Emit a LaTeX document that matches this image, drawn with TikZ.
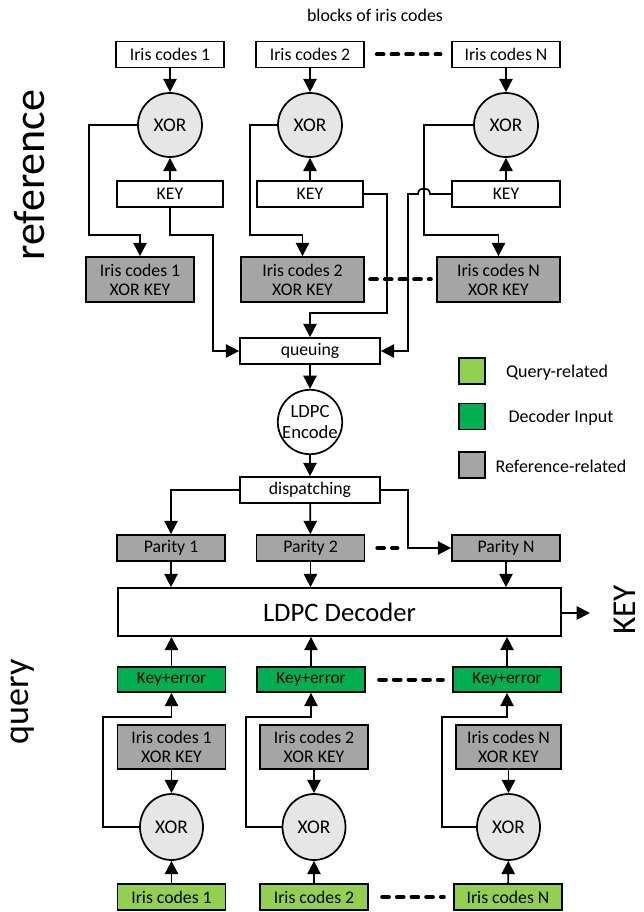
\documentclass[tikz,border=0pt]{standalone}
\usepackage{fontspec}
\setmainfont{Carlito}
\usetikzlibrary{arrows.meta,shapes.geometric}
\definecolor{refgray}{HTML}{A5A5A5}
\definecolor{qgreen}{HTML}{92D050}
\definecolor{dgreen}{HTML}{00B050}
\definecolor{xorgray}{HTML}{E6E6E6}
\begin{document}
\begin{tikzpicture}[x=0.75pt,y=-0.75pt,
  txt/.style={font=\fontsize{13.3}{14.3}\selectfont},
  box/.style={txt,draw,line width=1.3pt,inner sep=0pt,minimum width=81pt,minimum height=19.5pt,align=center},
  wbox/.style={box,fill=white},
  gbox/.style={box,fill=refgray,minimum height=33.75pt},
  qbox/.style={box,fill=qgreen},
  dbox/.style={box,fill=dgreen,minimum height=18.75pt,font=\fontsize{13}{14}\selectfont},
  xorc/.style={draw,line width=1.3pt,circle,fill=xorgray,minimum size=48pt,inner sep=0pt,font=\fontsize{14.5}{15}\selectfont},
  xore/.style={draw,line width=1.3pt,ellipse,fill=xorgray,minimum width=47.25pt,minimum height=49.5pt,inner sep=0pt,font=\fontsize{14.5}{15}\selectfont},
  arr/.style={line width=1.3pt,-{Triangle[length=10pt,width=10pt]}},
  dots/.style={line width=3pt,dash pattern=on 5pt off 6pt,line cap=round},
  lsq/.style={draw,line width=1.3pt,minimum size=19.5pt,inner sep=0pt},
  legtxt/.style={font=\fontsize{13.5}{14.5}\selectfont}
]
\useasboundingbox (0,0) rectangle (643,912);

% labels
\node[font=\fontsize{13.4}{14}\selectfont] (title) at (375,15) {blocks of iris codes};
\node[font=\fontsize{33}{36}\selectfont,rotate=90] (lref) at (30,175) {reference};
\node[font=\fontsize{27}{30}\selectfont,rotate=90] (lqry) at (23,702) {query};
\node[font=\fontsize{25}{27}\selectfont,rotate=90,inner sep=0pt] (keyout) at (625,610) {KEY};

% top row
\node[wbox] (ic1) at (170,54.5) {Iris codes 1};
\node[wbox] (ic2) at (310,54.5) {Iris codes 2};
\node[wbox] (icN) at (506,54.5) {Iris codes N};
\node[xorc] (xor1) at (170,125) {XOR};
\node[xorc] (xor2) at (310,125) {XOR};
\node[xorc] (xorN) at (506,125) {XOR};
\node[wbox,minimum width=79pt] (key1) at (170,194) {KEY};
\node[wbox,minimum width=80pt] (key2) at (310,194) {KEY};
\node[wbox] (keyN) at (506,194) {KEY};
\node[gbox] (ik1) at (140,279.5) {Iris codes 1\\XOR KEY};
\node[gbox,minimum width=92.25pt] (ik2) at (302.5,279.5) {Iris codes 2\\XOR KEY};
\node[gbox,minimum width=92.25pt] (ikN) at (498.5,279.5) {Iris codes N\\XOR KEY};

\draw[dots] ([xshift=9pt]ic2.east) -- ([xshift=-8pt]icN.west);
\draw[dots] ([xshift=4pt]ik2.east) -- ([xshift=-4pt]ikN.west);

\node[wbox,minimum width=105pt] (queue) at (310,351) {queuing};
\node[draw,line width=1.3pt,circle,fill=white,minimum size=48pt,inner sep=0pt,align=center,font=\fontsize{14}{15.5}\selectfont] (enc) at (310,422) {LDPC\\Encode};
\node[wbox,minimum width=105pt] (disp) at (310,490) {dispatching};

\node[gbox,minimum height=19.5pt] (p1) at (171,548) {Parity 1};
\node[gbox,minimum height=19.5pt] (p2) at (310.5,548) {Parity 2};
\node[gbox,minimum height=19.5pt] (pN) at (506,548) {Parity N};
\draw[dots] ([xshift=9pt]p2.east) -- ([xshift=24pt]p2.east);

\node[draw,line width=1.3pt,fill=white,minimum width=332.25pt,minimum height=36pt,inner sep=0pt,font=\fontsize{20}{22}\selectfont] (dec) at (339.5,612) {LDPC Decoder};
\coordinate (keytip) at (590,613);

% bottom
\node[dbox] (ke1) at (171.5,679.5) {Key+error};
\node[dbox] (ke2) at (311,679.5) {Key+error};
\node[dbox] (keN) at (507,679.5) {Key+error};
\node[gbox,minimum height=33pt] (bk1) at (171.5,747) {Iris codes 1\\XOR KEY};
\node[gbox,minimum height=33pt] (bk2) at (314,747) {Iris codes 2\\XOR KEY};
\node[gbox,minimum height=33pt,minimum width=79pt] (bkN) at (508.5,747) {Iris codes N\\XOR KEY};
\node[xore] (bx1) at (171.5,827) {XOR};
\node[xore] (bx2) at (314,827) {XOR};
\node[xore] (bxN) at (508.5,827) {XOR};
\node[qbox] (g1) at (171.5,897) {Iris codes 1};
\node[qbox] (g2) at (314,897) {Iris codes 2};
\node[qbox] (gN) at (508,897) {Iris codes N};
\draw[dots] ([xshift=10pt]ke2.east) -- ([xshift=-7pt]keN.west);
\draw[dots] ([xshift=10pt]g2.east) -- ([xshift=-7pt]gN.west);

% legend
\node[lsq,fill=qgreen] (sq1) at (472,371) {};
\node[lsq,fill=dgreen] (sq2) at (472,416.5) {};
\node[lsq,fill=refgray] (sq3) at (472,465) {};
\node[legtxt] (lt1) at (557,373) {Query-related};
\node[legtxt] (lt2) at (561,418) {Decoder Input};
\node[legtxt] (lt3) at (561,466) {Reference-related};

% top connectors
\draw[arr] (ic1) -- (xor1);
\draw[arr] (ic2) -- (xor2);
\draw[arr] (icN) -- (xorN);
\draw[arr] (key1) -- (xor1);
\draw[arr] (key2) -- (xor2);
\draw[arr] (keyN) -- (xorN);
\draw[arr] (xor1.west) -| (89,235) -| (ik1.north);
\draw[arr] (xor2.west) -| (250,235) -| (ik2.north);
\draw[arr] (xorN.west) -| (424,235) -| (ikN.north);
\draw[arr] (key1.south) |- (213,235) |- (queue.west);
\draw[arr] (key2.east) -| (387,313) -| (queue.north);
\draw[arr] (keyN.west) -- (430,194) .. controls (430,186.5) and (418,186.5) .. (418,194) -- (408,194) |- (queue.east);

\draw[arr] (queue) -- (enc);
\draw[arr] (enc) -- (disp);
\draw[arr] (disp.west) -| (p1.north);
\draw[arr] (disp) -- (p2);
\draw[arr] (disp.east) -| (408,548) -- (pN.west);
\draw[arr] (p1.south) -- (p1.south |- dec.north);
\draw[arr] (p2.south) -- (p2.south |- dec.north);
\draw[arr] (pN.south) -- (pN.south |- dec.north);
\draw[arr] (dec.east |- keytip) -- (keytip);

% bottom connectors
\draw[arr] (ke1.north) -- (ke1.north |- dec.south);
\draw[arr] (ke2.north) -- (ke2.north |- dec.south);
\draw[arr] (keN.north) -- (keN.north |- dec.south);
\draw[arr] (bk1) -- (bx1);
\draw[arr] (bk2) -- (bx2);
\draw[arr] (bkN) -- (bxN);
\draw[arr] (g1) -- (bx1);
\draw[arr] (g2) -- (bx2);
\draw[arr] (gN) -- (bxN);
\draw[arr] (bx1.west) -| (103,717) -| (ke1.south);
\draw[arr] (bx2.west) -| (246,717) -| (ke2.south);
\draw[arr] (bxN.west) -| (442,717) -| (keN.south);
\end{tikzpicture}
\end{document}
